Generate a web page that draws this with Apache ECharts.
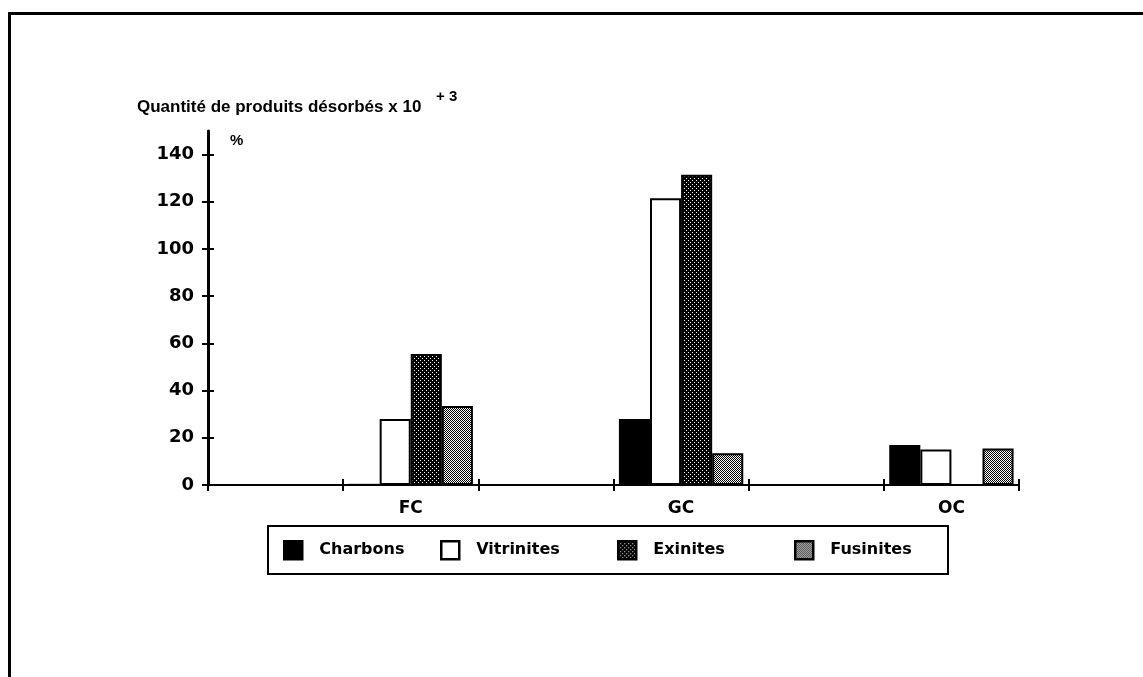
<!DOCTYPE html>
<html>
<head>
<meta charset="utf-8">
<script src="https://cdn.jsdelivr.net/npm/echarts@6/dist/echarts.min.js"></script>
<style>
  html, body { margin: 0; padding: 0; background: #fff; }
  #chart { width: 1143px; height: 677px; }
</style>
</head>
<body>
<div id="chart"></div>
<script>
// Desorbed products (x 10^3, %) per fraction and coal
const categories = ['', 'FC', '', 'GC', '', 'OC'];
const charbons   = [null, 0.5,  null, 28,    null, 17];
const vitrinites = [null, 28,   null, 121.5, null, 15];
const exinites   = [null, 55.5, null, 131.5, null, 0];
const fusinites  = [null, 33.5, null, 13.5,  null, 15.5];
const yTicks = [0, 20, 40, 60, 80, 100, 120, 140];
const seriesNames = ['Charbons', 'Vitrinites', 'Exinites', 'Fusinites'];

// Hatch fills: dark stipple and grey checker
function makePattern(size, draw) {
  const c = document.createElement('canvas');
  c.width = size; c.height = size;
  const ctx = c.getContext('2d');
  draw(ctx);
  return c;
}
const stipple = makePattern(4, ctx => {
  ctx.fillStyle = '#000'; ctx.fillRect(0, 0, 4, 4);
  ctx.fillStyle = '#fff';
  ctx.fillRect(0, 0, 1, 1);
  ctx.fillRect(2, 2, 1, 1);
});
const checker = makePattern(2, ctx => {
  ctx.fillStyle = '#fff'; ctx.fillRect(0, 0, 2, 2);
  ctx.fillStyle = '#000';
  ctx.fillRect(0, 0, 1, 1);
  ctx.fillRect(1, 1, 1, 1);
});

const fills = [
  { color: '#000', borderColor: '#000', borderWidth: 0 },
  { color: '#fff', borderColor: '#000', borderWidth: 2 },
  { color: { image: stipple, repeat: 'repeat' }, borderColor: '#000', borderWidth: 2 },
  { color: { image: checker, repeat: 'repeat' }, borderColor: '#000', borderWidth: 2 }
];
const values = [charbons, vitrinites, exinites, fusinites];

const labelFont = { fontFamily: 'DejaVu Sans', fontWeight: 'bold', color: '#000' };
const gridBox = { left: 208, right: 124, top: 131, bottom: 192 };

// one legend per entry so each sits where the boxed key places it
const legendLeft = [283, 440, 617, 794];
const legends = seriesNames.map((n, i) => ({
  data: [n],
  left: legendLeft[i],
  top: 540,
  orient: 'horizontal',
  icon: 'rect',
  itemWidth: 18,
  itemHeight: 18,
  selectedMode: false,
  itemStyle: { borderWidth: 2.5, borderColor: '#000' },
  textStyle: Object.assign({ fontSize: 16, padding: [0, 0, 0, 12] }, labelFont),
  padding: 0
}));

const chart = echarts.init(document.getElementById('chart'), null, { renderer: 'canvas' });
chart.setOption({
  animation: false,
  backgroundColor: '#fff',
  grid: [
    Object.assign({}, gridBox),
    Object.assign({}, gridBox)
  ],
  legend: legends,
  xAxis: [
    {
      type: 'category', data: categories, gridIndex: 0,
      boundaryGap: true,
      axisLine: { lineStyle: { color: '#000', width: 2 } },
      axisTick: { show: true, length: 6, lineStyle: { color: '#000', width: 2 } },
      axisLabel: Object.assign({ fontSize: 17, margin: 15, interval: 0 }, labelFont),
      splitLine: { show: false }
    },
    {
      type: 'category', data: categories, gridIndex: 1,
      boundaryGap: true,
      axisLine: { show: false },
      axisTick: { show: true, inside: true, length: 6, lineStyle: { color: '#000', width: 2 } },
      axisLabel: { show: false },
      splitLine: { show: false }
    }
  ],
  yAxis: [
    {
      type: 'value', min: 0, max: 150, gridIndex: 0,
      axisLine: { show: true, lineStyle: { color: '#000', width: 3 } },
      axisTick: { show: true, length: 6, customValues: yTicks, lineStyle: { color: '#000', width: 2 } },
      axisLabel: Object.assign({ fontSize: 18, margin: 14, customValues: yTicks }, labelFont),
      splitLine: { show: false }
    },
    {
      type: 'value', min: 0, max: 150, gridIndex: 1,
      axisLine: { show: false },
      axisTick: { show: true, inside: true, length: 6, customValues: yTicks, lineStyle: { color: '#000', width: 2 } },
      axisLabel: { show: false },
      splitLine: { show: false }
    }
  ],
  series: seriesNames.map((n, i) => ({
    name: n,
    type: 'bar',
    xAxisIndex: 0, yAxisIndex: 0,
    data: values[i],
    barGap: '0%',
    barCategoryGap: '8%',
    itemStyle: fills[i]
  })),
  graphic: [
    // page frame
    { type: 'rect', shape: { x: 8, y: 12, width: 1135, height: 3 }, style: { fill: '#000' } },
    { type: 'rect', shape: { x: 8, y: 12, width: 3, height: 665 }, style: { fill: '#000' } },
    // legend box
    { type: 'rect', shape: { x: 268, y: 526, width: 680, height: 48 }, style: { fill: 'none', stroke: '#000', lineWidth: 2 } },
    // axis title
    { type: 'text', left: 137, top: 99, style: { text: 'Quantité de produits désorbés x 10', font: 'bold 17px "Liberation Sans", Arial, sans-serif', fill: '#000' } },
    { type: 'text', left: 436, top: 89, style: { text: '+ 3', font: 'bold 15px "Liberation Sans", Arial, sans-serif', fill: '#000' } },
    { type: 'text', left: 230, top: 133, style: { text: '%', font: 'bold 15px "Liberation Sans", Arial, sans-serif', fill: '#000' } }
  ]
});
</script>
</body>
</html>
